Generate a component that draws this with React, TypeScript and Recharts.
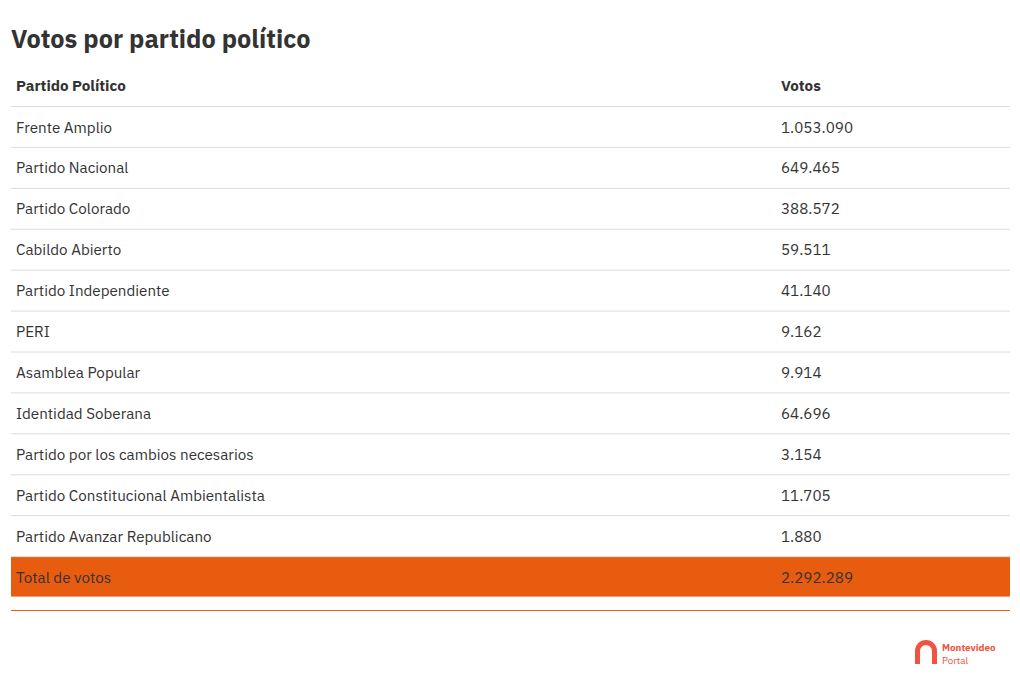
import React from 'react';
import { BarChart, Bar, XAxis, YAxis, LabelList } from 'recharts';

const partidos = [
  'Frente Amplio',
  'Partido Nacional',
  'Partido Colorado',
  'Cabildo Abierto',
  'Partido Independiente',
  'PERI',
  'Asamblea Popular',
  'Identidad Soberana',
  'Partido por los cambios necesarios',
  'Partido Constitucional Ambientalista',
  'Partido Avanzar Republicano',
  'Total de votos',
];

const votos = [
  '1.053.090', '649.465', '388.572', '59.511', '41.140', '9.162',
  '9.914', '64.696', '3.154', '11.705', '1.880', '2.292.289',
];

// la última fila es el total, resaltada en naranja
const resaltado = [0, 0, 0, 0, 0, 0, 0, 0, 0, 0, 0, 1];

const filas = partidos.map((p, i) => ({ partido: p, votos: votos[i], fondo: resaltado[i] }));

const FONT = '"IBM Plex Sans", "Noto Sans", sans-serif';
const NARANJA = '#e85c10';
const TEXTO = '#333333';
const COL_VOTOS = 770;
const TAM = 15.2;

const FondoFila = (props: any) => {
  const { x, y, width } = props;
  return <line x1={x} x2={x + width} y1={y + 0.5} y2={y + 0.5} stroke="#dcdcdc" strokeWidth={1} />;
};

const CeldaTotal = (props: any) => {
  const { x, y, width, height } = props;
  if (!width) return null;
  return <rect x={x} y={y + 1} width={width} height={height - 1.5} fill={NARANJA} />;
};

const TextoPartido = (props: any) => {
  const { x, y, height, value } = props;
  return (
    <text x={x + 5} y={y + height / 2} dominantBaseline="central" fontSize={TAM} fill={TEXTO} fontFamily={FONT}>
      {value}
    </text>
  );
};

const TextoVotos = (props: any) => {
  const { x, y, height, value } = props;
  return (
    <text x={x + COL_VOTOS} y={y + height / 2} dominantBaseline="central" fontSize={TAM} fill={TEXTO} fontFamily={FONT}>
      {value}
    </text>
  );
};

const Logo = () => (
  <svg width={92} height={32} style={{ position: 'absolute', left: 912, top: 637 }}>
    <path d="M3 27 V14 A11 11 0 0 1 25 14 V27 H20 V14 A6 6 0 0 0 8 14 V27 Z" fill="#f0533f" />
    <text x={30} y={14} fontSize={9.8} fontWeight={700} fill="#f0533f" fontFamily={FONT}>Montevideo</text>
    <text x={30} y={26.5} fontSize={9.8} fill="#f0533f" fontFamily={FONT}>Portal</text>
  </svg>
);

export default function App() {
  return (
    <div style={{ position: 'absolute', left: 0, top: 0, width: 1020, height: 690, background: '#fff', fontFamily: FONT, color: TEXTO }}>
      <div style={{ position: 'absolute', left: 11, top: 24, fontSize: 25.3, fontWeight: 700, lineHeight: '30px' }}>
        Votos por partido político
      </div>
      <div style={{ position: 'absolute', left: 16, top: 75, fontSize: TAM, fontWeight: 700, lineHeight: '20px' }}>
        Partido Político
      </div>
      <div style={{ position: 'absolute', left: 11 + COL_VOTOS, top: 75, fontSize: TAM, fontWeight: 700, lineHeight: '20px' }}>
        Votos
      </div>
      <div style={{ position: 'absolute', left: 11, top: 106 }}>
        <BarChart
          width={999}
          height={491}
          data={filas}
          layout="vertical"
          margin={{ top: 0, right: 0, bottom: 0, left: 0 }}
          barCategoryGap={0}
        >
          <XAxis type="number" domain={[0, 1]} hide />
          <YAxis type="category" dataKey="partido" hide />
          <Bar dataKey="fondo" isAnimationActive={false} background={<FondoFila />} shape={<CeldaTotal />}>
            <LabelList dataKey="partido" content={<TextoPartido />} />
            <LabelList dataKey="votos" content={<TextoVotos />} />
          </Bar>
        </BarChart>
      </div>
      <div style={{ position: 'absolute', left: 11, top: 610, width: 999, height: 1, background: NARANJA }} />
      <Logo />
    </div>
  );
}
